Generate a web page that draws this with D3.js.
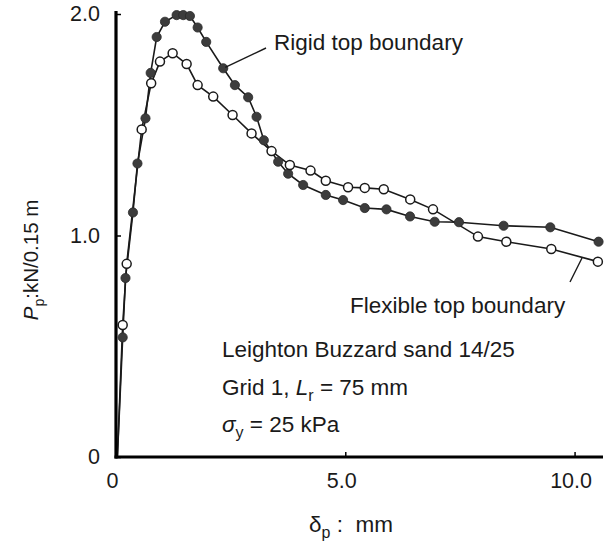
<!DOCTYPE html>
<html><head><meta charset="utf-8">
<script src="https://cdn.jsdelivr.net/npm/d3@7"></script>
<style>
body{margin:0;background:#fff;}
svg{display:block;font-family:"Liberation Sans",Arial,Helvetica,sans-serif;}
</style></head>
<body>
<script>
// ---- data (δp in mm, Pp in kN/0.15 m) ----
const rigidX = [0.03,0.146,0.207,0.370,0.468,0.643,0.756,0.887,1.068,1.322,1.466,1.612,1.780,1.967,2.338,2.593,2.882,3.065,3.224,3.536,3.754,4.081,4.575,4.952,5.425,5.898,6.412,6.950,7.479,8.453,9.471,10.523];
const rigidY = [0.00,0.540,0.808,1.104,1.325,1.529,1.734,1.896,1.965,1.995,1.995,1.991,1.939,1.874,1.755,1.679,1.624,1.536,1.430,1.333,1.279,1.228,1.183,1.160,1.124,1.118,1.086,1.062,1.060,1.044,1.037,0.972];
const flexX = [0.03,0.146,0.233,0.560,0.767,0.959,1.235,1.540,1.780,2.120,2.542,2.956,3.392,3.791,4.242,4.575,5.061,5.425,5.839,6.416,6.913,7.893,8.512,9.492,10.508];
const flexY = [0.00,0.596,0.872,1.479,1.687,1.785,1.823,1.774,1.679,1.627,1.544,1.461,1.381,1.318,1.293,1.247,1.218,1.215,1.209,1.163,1.118,0.995,0.972,0.939,0.882];
const xTicks = [0, 5, 10];
const xTickLabels = ["0", "5.0", "10.0"];
const yTicks = [0, 1, 2];
const yTickLabels = ["0", "1.0", "2.0"];

const W = 608, H = 546;
const svg = d3.select("body").append("svg").attr("width", W).attr("height", H);
const x = d3.scaleLinear().domain([0, 10.62]).range([116, 603]);
const y = d3.scaleLinear().domain([0, 2.0]).range([457, 14]);
const ink = "#1a1a1a";
const FS = 22.5;

// curves
const line = d3.line().x(d => x(d[0])).y(d => y(d[1]));
const rigid = rigidX.map((v, i) => [v, rigidY[i]]);
const flex = flexX.map((v, i) => [v, flexY[i]]);
svg.append("path").attr("d", line(flex)).attr("fill", "none").attr("stroke", ink).attr("stroke-width", 1.6);
svg.append("path").attr("d", line(rigid)).attr("fill", "none").attr("stroke", ink).attr("stroke-width", 1.6);
svg.selectAll("circle.r").data(rigid.slice(1)).enter().append("circle")
  .attr("cx", d => x(d[0])).attr("cy", d => y(d[1])).attr("r", 4.6)
  .attr("fill", "#3c3c3c").attr("stroke", "#2a2a2a").attr("stroke-width", 0.8);
svg.selectAll("circle.f").data(flex.slice(1)).enter().append("circle")
  .attr("cx", d => x(d[0])).attr("cy", d => y(d[1])).attr("r", 4.5)
  .attr("fill", "#fff").attr("stroke", ink).attr("stroke-width", 1.5);

// axes
const xAxis = d3.axisBottom(x).tickValues(xTicks).tickFormat((d, i) => xTickLabels[i]).tickSize(-5).tickPadding(16);
const gx = svg.append("g").attr("transform", `translate(0,${y(0)})`).call(xAxis);
gx.select(".domain").attr("stroke", "#000").attr("stroke-width", 3.2).attr("d", `M${x(0)-1.5},0H${x.range()[1]}`);
gx.selectAll(".tick line").attr("stroke", "#000").attr("stroke-width", 1.5);
gx.selectAll(".tick text").attr("font-size", 21.5).attr("fill", ink).attr("dx", -4)
  .attr("font-family", "'Liberation Sans',Arial,sans-serif");

const yAxis = d3.axisLeft(y).tickValues(yTicks).tickFormat((d, i) => yTickLabels[i]).tickSize(-5).tickPadding(16);
const gy = svg.append("g").attr("transform", `translate(${x(0)},0)`).call(yAxis);
gy.select(".domain").attr("stroke", "#000").attr("stroke-width", 3.2).attr("d", `M0,${y(0)+1.5}V${y(2)-3}`);
gy.selectAll(".tick line").attr("stroke", "#000").attr("stroke-width", 1.5);
gy.selectAll(".tick text").attr("font-size", 21.5).attr("fill", ink)
  .attr("font-family", "'Liberation Sans',Arial,sans-serif");

// axis titles
const xt = svg.append("text").attr("x", 351).attr("y", 532).attr("text-anchor", "middle")
  .attr("font-size", FS).attr("fill", ink);
xt.append("tspan").text("δ");
xt.append("tspan").attr("font-size", 16).attr("dy", 6).text("p");
xt.append("tspan").attr("dy", -6).text("\u00a0:\u00a0\u00a0mm");

const yt = svg.append("text").attr("transform", "translate(38,260) rotate(-90)").attr("text-anchor", "middle")
  .attr("font-size", 20.5).attr("fill", ink);
yt.append("tspan").attr("font-style", "italic").text("P");
yt.append("tspan").attr("font-size", 14).attr("dy", 6).text("p");
yt.append("tspan").attr("dy", -6).text(":kN/0.15 m");

// annotations
svg.append("text").attr("x", 274).attr("y", 50).attr("font-size", FS).attr("fill", ink).text("Rigid top boundary");
svg.append("line").attr("x1", x(2.338) + 2).attr("y1", y(1.755) - 1).attr("x2", 266).attr("y2", 48)
  .attr("stroke", ink).attr("stroke-width", 1.4);
svg.append("text").attr("x", 350).attr("y", 313).attr("font-size", FS).attr("fill", ink).text("Flexible top boundary");
svg.append("line").attr("x1", 582).attr("y1", 258).attr("x2", 570).attr("y2", 282)
  .attr("stroke", ink).attr("stroke-width", 1.4);

svg.append("text").attr("x", 222).attr("y", 357).attr("font-size", FS).attr("fill", ink).text("Leighton Buzzard sand 14/25");
const g1 = svg.append("text").attr("x", 222).attr("y", 395).attr("font-size", FS).attr("fill", ink);
g1.append("tspan").text("Grid 1, ");
g1.append("tspan").attr("font-style", "italic").text("L");
g1.append("tspan").attr("font-size", 16).attr("dy", 6).text("r");
g1.append("tspan").attr("dy", -6).text(" = 75 mm");
const s1 = svg.append("text").attr("x", 222).attr("y", 432).attr("font-size", FS).attr("fill", ink);
s1.append("tspan").attr("font-style", "italic").text("σ");
s1.append("tspan").attr("font-size", 16).attr("dy", 6).text("y");
s1.append("tspan").attr("dy", -6).text(" = 25 kPa");
</script>
</body></html>
